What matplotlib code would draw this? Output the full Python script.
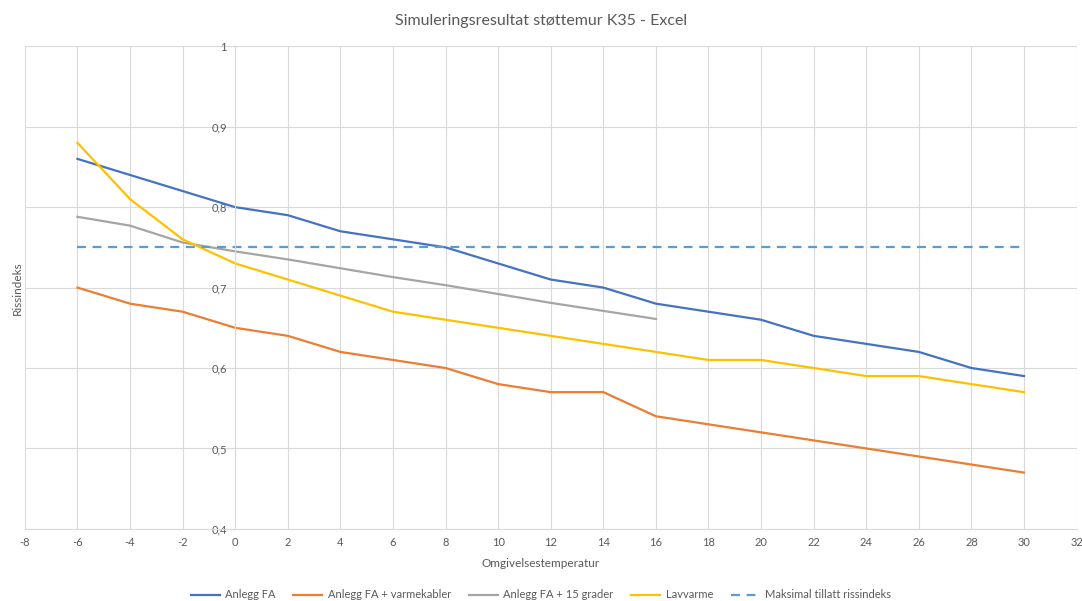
import matplotlib
matplotlib.use('Agg')
import matplotlib.pyplot as plt
from matplotlib.ticker import FuncFormatter, MultipleLocator

temp = [-6, -4, -2, 0, 2, 4, 6, 8, 10, 12, 14, 16, 18, 20, 22, 24, 26, 28, 30]
anlegg_fa = [0.86, 0.84, 0.82, 0.80, 0.79, 0.77, 0.76, 0.75, 0.73, 0.71, 0.70,
             0.68, 0.67, 0.66, 0.64, 0.63, 0.62, 0.60, 0.59]
varmekabler = [0.70, 0.68, 0.67, 0.65, 0.64, 0.62, 0.61, 0.60, 0.58, 0.57, 0.57,
               0.54, 0.53, 0.52, 0.51, 0.50, 0.49, 0.48, 0.47]
temp_15 = [-6, -4, -2, 0, 2, 4, 6, 8, 10, 12, 14, 16]
grader_15 = [0.788, 0.777, 0.756, 0.745, 0.735, 0.724, 0.713, 0.703, 0.692,
             0.681, 0.671, 0.661]
lavvarme = [0.88, 0.81, 0.76, 0.73, 0.71, 0.69, 0.67, 0.66, 0.65, 0.64, 0.63,
            0.62, 0.61, 0.61, 0.60, 0.59, 0.59, 0.58, 0.57]
maks = [0.75] * len(temp)

plt.rcParams['font.family'] = ['Lato', 'DejaVu Sans']
txt = '#595959'
grid = '#d9d9d9'

fig = plt.figure(figsize=(10.82, 6.01), dpi=100)
ax = fig.add_axes([0.023, 0.120, 0.972, 0.803])

ax.plot(temp, anlegg_fa, color='#4472C4', lw=1.6, label='Anlegg FA')
ax.plot(temp, varmekabler, color='#ED7D31', lw=1.6, label='Anlegg FA + varmekabler')
ax.plot(temp_15, grader_15, color='#A5A5A5', lw=1.6, label='Anlegg FA + 15 grader')
ax.plot(temp, lavvarme, color='#FFC000', lw=1.6, label='Lavvarme')
ax.plot(temp, maks, color='#5B9BD5', lw=1.6, ls=(0, (4, 3)), label='Maksimal tillatt rissindeks')

ax.set_xlim(-8, 32)
ax.set_ylim(0.4, 1.0)
ax.xaxis.set_major_locator(MultipleLocator(2))
ax.yaxis.set_major_locator(MultipleLocator(0.1))

def fmt(v, pos):
    s = f'{v:.1f}'.replace('.', ',')
    return '1' if s == '1,0' else s

ax.yaxis.set_major_formatter(FuncFormatter(fmt))
ax.xaxis.set_major_formatter(FuncFormatter(lambda v, p: f'{int(round(v))}'))

ax.grid(True, color=grid, lw=0.8)
ax.set_axisbelow(True)
for s in ['top', 'right']:
    ax.spines[s].set_visible(False)
ax.spines['left'].set_position(('data', 0))
ax.spines['left'].set_color(grid)
ax.spines['bottom'].set_color(grid)
ax.tick_params(axis='both', colors=txt, labelsize=8, length=0, pad=6)
ax.tick_params(axis='y', length=4, color=grid, pad=2)

fig.text(0.5, 0.965, 'Simuleringsresultat støttemur K35 - Excel', ha='center',
         va='center', fontsize=11.5, color=txt)
fig.text(0.5, 0.063, 'Omgivelsestemperatur', ha='center', va='center',
         fontsize=8.5, color=txt)
fig.text(0.016, 0.52, 'Rissindeks', ha='center', va='center', rotation=90,
         fontsize=8.5, color=txt)

fig.legend(loc='center', bbox_to_anchor=(0.5, 0.01), ncol=5, frameon=False,
           fontsize=8, labelcolor=txt, handlelength=2.6, columnspacing=1.6,
           handletextpad=0.5)

fig.savefig('out.png', dpi=100)
